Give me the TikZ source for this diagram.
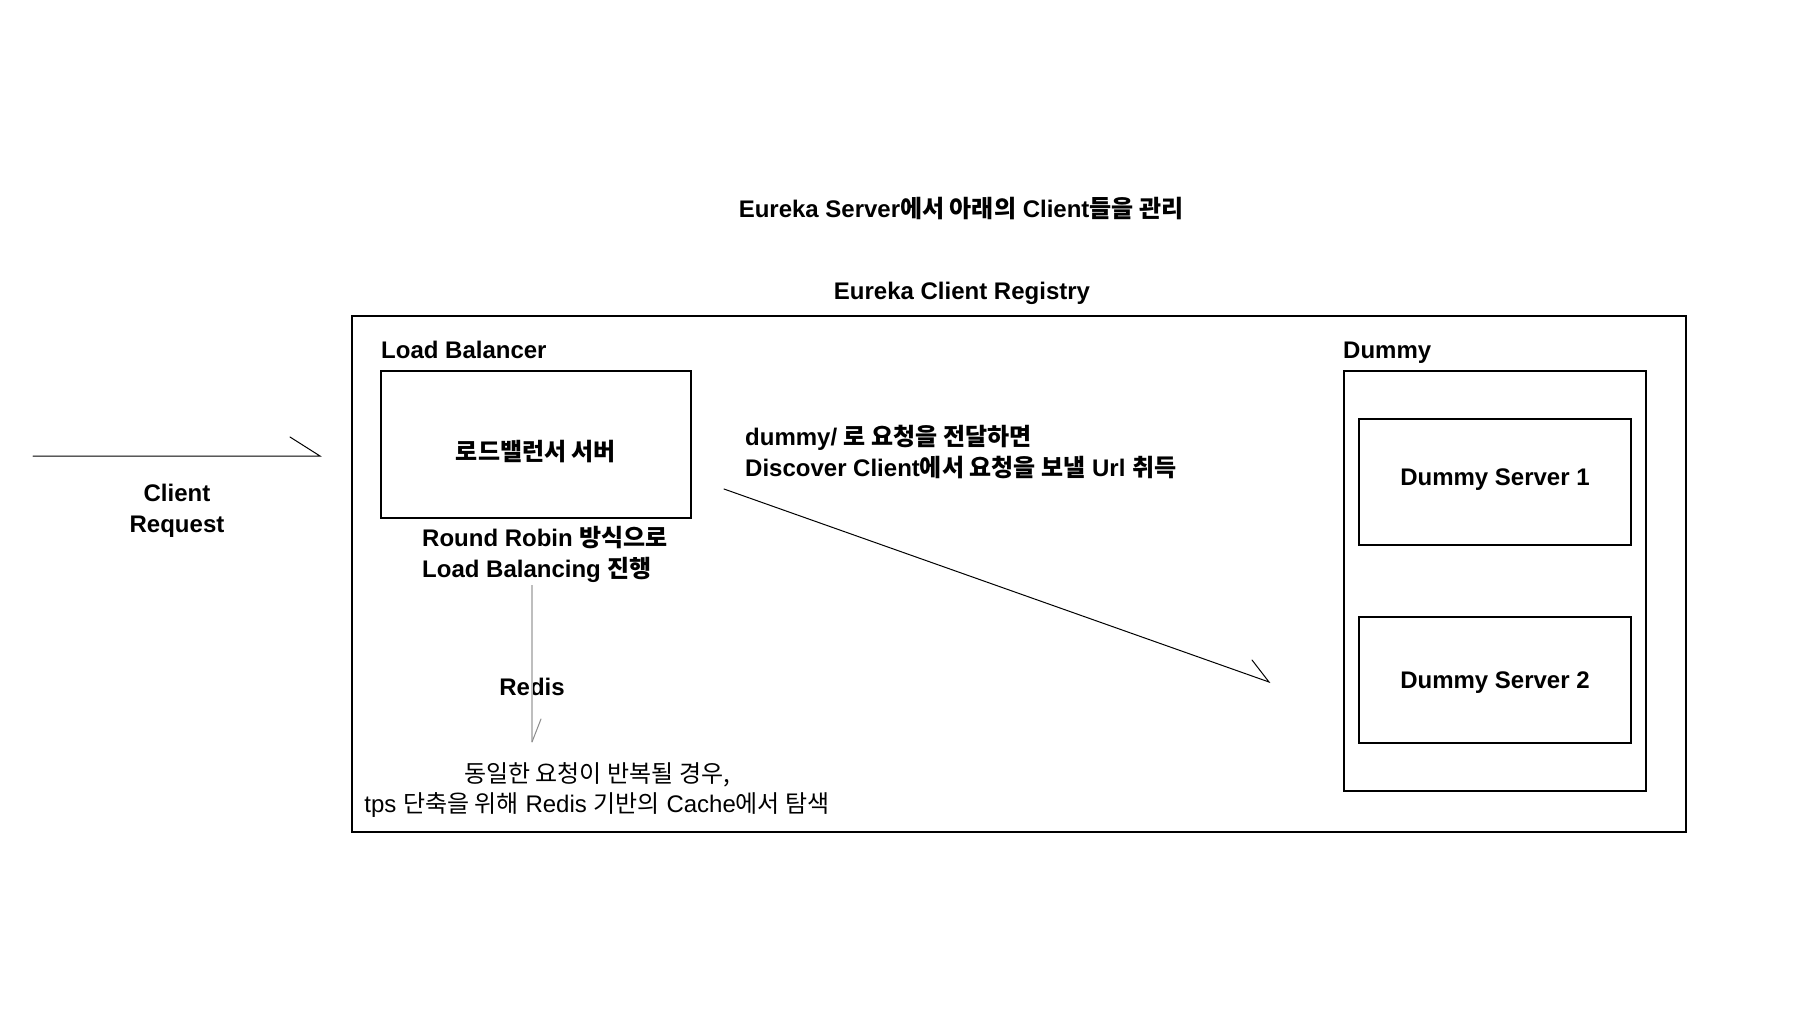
\documentclass[tikz,border=0pt]{standalone}
\usepackage{fontspec}
\setmainfont{Liberation Sans}
\newfontfamily\krfont{Noto Sans CJK KR}
\newcommand\ko[1]{{\krfont #1}}
\definecolor{redisgray}{RGB}{190,190,190}
\definecolor{barbgray}{RGB}{140,140,140}
\begin{document}
\begin{tikzpicture}[x=1pt,y=-1pt,
  box/.style={draw, line width=2pt, inner sep=0pt, font=\bfseries\fontsize{24}{31}\selectfont},
  lbl/.style={inner sep=0pt, font=\bfseries\fontsize{24}{31}\selectfont},
  plainlbl/.style={inner sep=0pt, font=\fontsize{24}{30}\selectfont},
  thinline/.style={line width=1pt, line cap=round}]
\useasboundingbox (0,0) rectangle (1819,1023);
\fill[white] (0,0) rectangle (1819,1023);

% boxes
\node[box, minimum width=1334pt, minimum height=516pt] (reg) at (1019,574) {};
\node[box, minimum width=310pt, minimum height=147pt, text height=32pt, text depth=0pt] (lb) at (536,444.5) {\ko{로드밸런서 서버}};
\node[box, minimum width=302pt, minimum height=420pt] (dummy) at (1495,581) {};
\node[box, minimum width=272pt, minimum height=126pt, text height=7pt, text depth=0pt] (s1) at (1495,482) {Dummy Server 1};
\node[box, minimum width=272pt, minimum height=126pt, text height=17pt, text depth=0pt] (s2) at (1495,680) {Dummy Server 2};

% labels
\node[lbl, anchor=base] (t1) at (961,217) {Eureka Server\ko{에서 아래의} Client\ko{들을 관리}};
\node[lbl, anchor=base] (t2) at (962,299) {Eureka Client Registry};
\node[lbl, anchor=base west] (lbt) at (381,358) {Load Balancer};
\node[lbl, anchor=base west] (dt) at (1343,358) {Dummy};
\node[lbl, align=center] (cr) at (177,511) {Client\\Request};
\node[lbl, align=left, anchor=west] (rr) at (422,554) {Round Robin \ko{방식으로}\\Load Balancing \ko{진행}};
\node[lbl, anchor=base] (redis) at (532,695) {Redis};
\node[plainlbl, align=center] (cache) at (597,790) {\ko{동일한 요청이 반복될 경우,}\\tps \ko{단축을 위해} Redis \ko{기반의} Cache\ko{에서 탐색}};
\node[lbl, align=left, anchor=west] (disc) at (745,452) {dummy/ \ko{로 요청을 전달하면}\\Discover Client\ko{에서 요청을 보낼} Url \ko{취득}};

% connectors
\coordinate (a1) at (33,456);
\coordinate (a2) at (320,456);
\draw[thinline] (a1) -- (a2) -- ++(-30,-19);

\coordinate (d1) at (724,489);
\coordinate (d2) at (1269,682);
\draw[thinline] (d1) -- (d2) -- ++(-17,-22);

\coordinate (r1) at (532,585);
\coordinate (r2) at (532,742);
\draw[line width=1.5pt, redisgray] (r1) -- (r2);
\draw[thinline, barbgray] (r2) -- ++(9,-23);
\end{tikzpicture}
\end{document}
